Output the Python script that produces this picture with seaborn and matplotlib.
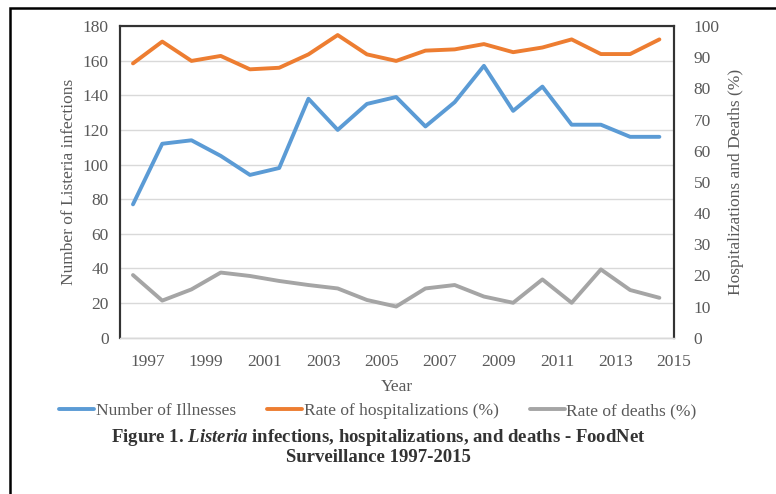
import matplotlib
matplotlib.use("Agg")
import matplotlib.pyplot as plt
import seaborn as sns
import pandas as pd
from matplotlib.lines import Line2D
from matplotlib.patches import Rectangle

years = list(range(1997, 2016))
illnesses = [77, 112, 114, 105, 94, 98, 138, 120, 135, 139, 122, 136, 157, 131, 145, 123, 123, 116, 116]
hosp_rate = [88, 95, 88.8, 90.4, 86.1, 86.6, 90.9, 97.1, 90.9, 88.8, 92.1, 92.5, 94.2, 91.6, 93.1, 95.7, 91, 91, 95.7]
death_rate = [20.1, 11.9, 15.5, 20.9, 19.8, 18.2, 16.9, 15.8, 12.1, 10, 15.8, 16.9, 13.2, 11.2, 18.7, 11.2, 21.9, 15.3, 12.8]
tick_years = list(range(1997, 2016, 2))

blue, orange, gray = "#5B9BD5", "#ED7D31", "#A5A5A5"
sns.set_style("white")
plt.rcParams["font.family"] = ["Liberation Serif", "DejaVu Serif"]
plt.rcParams["mathtext.fontset"] = "custom"
plt.rcParams["mathtext.it"] = "Liberation Serif:italic:bold"
plt.rcParams["mathtext.rm"] = "Liberation Serif:bold"

df = pd.DataFrame({"Year": years, "Illnesses": illnesses, "Hosp": hosp_rate, "Deaths": death_rate})

fig = plt.figure(figsize=(7.76, 4.94), dpi=100)
ax = fig.add_axes([120/776, 1-337.7/494, (674-120)/776, (337.7-26)/494])
ax2 = ax.twinx()

sns.lineplot(data=df, x="Year", y="Illnesses", ax=ax, color=blue, lw=2.8, zorder=3)
sns.lineplot(data=df, x="Year", y="Hosp", ax=ax2, color=orange, lw=2.8)
sns.lineplot(data=df, x="Year", y="Deaths", ax=ax2, color=gray, lw=2.8)

ax.set_xlim(1996.556, 2015.48)
ax.set_ylim(0, 180)
ax2.set_ylim(0, 100)
ax.set_yticks(range(0, 181, 20))
ax2.set_yticks(range(0, 101, 10))
ax.set_xticks([y + 0.5 for y in tick_years])
ax.set_xticklabels([str(y) for y in tick_years])
ax.yaxis.grid(True, color="#D9D9D9", lw=1)
ax.xaxis.grid(False)
ax2.grid(False)

tc = "#595959"
for a in (ax, ax2):
    a.tick_params(axis="both", length=0, labelsize=12.5, labelcolor=tc, pad=8)
    for s in ("left", "right", "top"):
        a.spines[s].set_color("#333333")
        a.spines[s].set_linewidth(1.5)
    a.spines["bottom"].set_color("#D9D9D9")
    a.spines["bottom"].set_linewidth(1)
ax.tick_params(axis="x", pad=12)
ax2.tick_params(axis="y", pad=14)

ax.set_xlabel("Year", fontsize=12.5, color=tc, labelpad=6)
ax.set_ylabel("Number of Listeria infections", fontsize=12.5, color=tc, labelpad=4)
ax2.set_ylabel("Hospitalizations and Deaths (%)", fontsize=12.5, color=tc, labelpad=6)

handles = [Line2D([], [], color=blue, lw=2.8), Line2D([], [], color=orange, lw=2.8), Line2D([], [], color=gray, lw=2.8)]
labels = ["Number of Illnesses", "Rate of hospitalizations (%)", "Rate of deaths (%)"]
leg = fig.legend(handles, labels, ncol=3, loc="center", bbox_to_anchor=(378/776, 1-411/494),
                 frameon=False, fontsize=12.5, handlelength=2.0, handletextpad=0.1, columnspacing=1.8)
for t in leg.get_texts():
    t.set_color(tc)

fig.text(378/776, 1-437/494, r"Figure 1. $\mathit{Listeria}$ infections, hospitalizations, and deaths - FoodNet",
         ha="center", va="center", fontsize=13.5, fontweight="bold", color="#333333")
fig.text(378/776, 1-457/494, "Surveillance 1997-2015",
         ha="center", va="center", fontsize=13.5, fontweight="bold", color="#333333")

fig.patches.append(Rectangle((10/776, -0.1), 1.2, 1.1 - 8/494, transform=fig.transFigure,
                             fill=False, edgecolor="black", lw=1.8))

fig.savefig("out.png", dpi=100)
